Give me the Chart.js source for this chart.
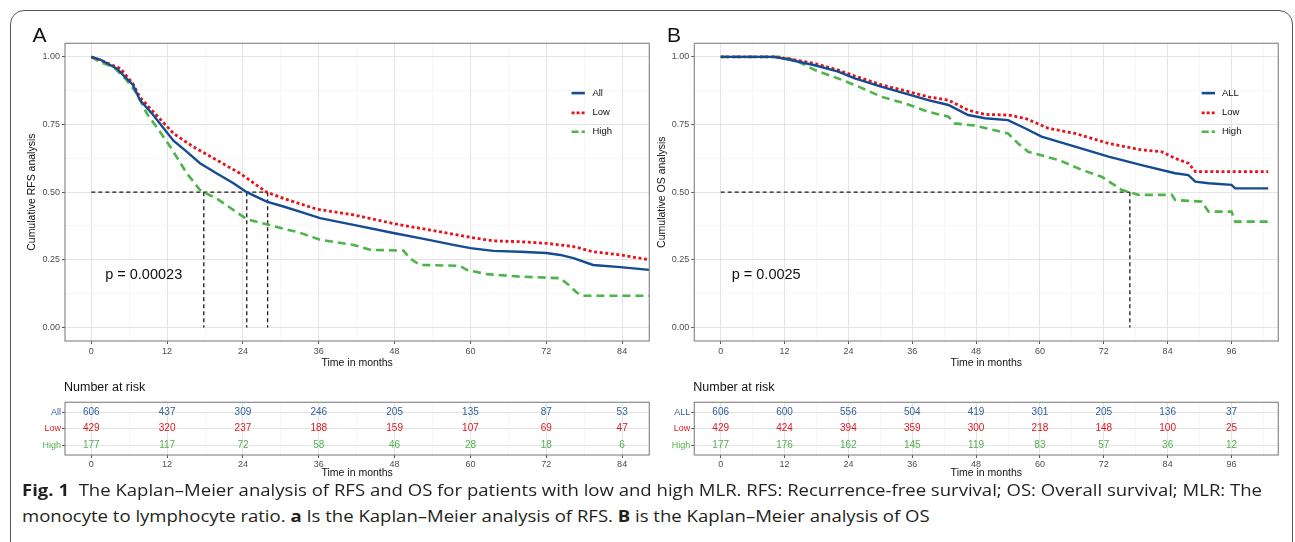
<!DOCTYPE html>
<html><head><meta charset="utf-8">
<script src="https://cdn.jsdelivr.net/npm/chart.js@4.4.1/dist/chart.umd.min.js"></script>
<style>
html,body{margin:0;padding:0;background:#fff;overflow:hidden;}
#wrap{position:relative;width:1295px;height:542px;overflow:hidden;background:#fff;}
#frame{position:absolute;left:10px;top:10px;width:1283px;height:600px;border:1.5px solid #555;border-radius:14px;box-sizing:border-box;}
canvas{position:absolute;}
.cap{position:absolute;left:22px;font-family:'Open Sans','Noto Sans',sans-serif;font-size:16px;color:#231f20;white-space:nowrap;transform-origin:0 50%;line-height:20px;}
.cap b{font-weight:700;}
</style></head>
<body><div id="wrap">
<div id="frame"></div>
<canvas id="kmA" width="660" height="380" style="left:0;top:0"></canvas>
<canvas id="kmB" width="640" height="380" style="left:655px;top:0"></canvas>
<canvas id="rkA" width="660" height="115" style="left:0;top:370px"></canvas>
<canvas id="rkB" width="640" height="115" style="left:655px;top:370px"></canvas>
<div class="cap" id="cap1" style="top:480px"><b>Fig. 1</b>&nbsp; The Kaplan–Meier analysis of RFS and OS for patients with low and high MLR. RFS: Recurrence-free survival; OS: Overall survival; MLR: The</div>
<div class="cap" id="cap2" style="top:506px">monocyte to lymphocyte ratio. <b>a</b> Is the Kaplan–Meier analysis of RFS. <b>B</b> is the Kaplan–Meier analysis of OS</div>
</div>
<script>
// ---------------- DATA ----------------
// Panel A (RFS)
const rfsAllTime  = [0,1.4,4,6.6,7.7,9.8,13,15.1,17.2,19.8,22.5,24.6,27.75,30.4,33,36.2,41.5,48,52,57.3,60,63.6,67.8,72,74.2,76.3,79.4,83.7,88.3];
const rfsAllSurv  = [1,0.99,0.957,0.896,0.84,0.785,0.69,0.65,0.607,0.57,0.533,0.5,0.465,0.447,0.428,0.404,0.379,0.348,0.33,0.305,0.293,0.283,0.28,0.275,0.268,0.256,0.231,0.223,0.213];
const rfsLowTime  = [0,1.4,4.6,6.6,7.7,10.3,13,16.1,19.8,23.5,27.75,30.4,35.7,41.5,48,53.6,60,63.6,67.8,72,76.3,79.4,83.7,88.3];
const rfsLowSurv  = [1,0.988,0.957,0.9,0.85,0.785,0.717,0.668,0.619,0.57,0.5,0.477,0.437,0.416,0.383,0.36,0.333,0.32,0.317,0.311,0.299,0.28,0.268,0.25];
const rfsHighTime = [0,1.4,3.5,5.6,7.2,8.8,10.3,12.5,15.1,17.2,17.8,19.8,22.5,24.6,27.75,33,36.2,41.5,44.1,49.4,50.4,52,58.3,59.4,62.6,67.8,74.2,75.7,76.8,77.8,88.3];
const rfsHighSurv = [1,0.98,0.963,0.914,0.865,0.79,0.742,0.668,0.57,0.508,0.5,0.477,0.434,0.4,0.381,0.35,0.324,0.305,0.287,0.284,0.256,0.231,0.228,0.213,0.197,0.188,0.182,0.154,0.129,0.117,0.117];
const rfsMedians  = [17.8, 24.6, 27.9];
const rfsPValue   = "p = 0.00023";
const rfsLegend   = ["All","Low","High"];

// Panel B (OS)
const osAllTime  = [0,10,12.7,17.7,22.1,25.2,30.3,34.6,39,42.8,46.5,49.7,54,57.2,60.3,66.6,72.9,79.1,85.4,87.9,89.2,91.7,96,96.7,102.9];
const osAllSurv  = [1,1,0.99,0.969,0.945,0.92,0.889,0.865,0.84,0.822,0.785,0.773,0.766,0.736,0.705,0.668,0.631,0.6,0.57,0.563,0.539,0.533,0.527,0.514,0.514];
const osLowTime  = [0,10,12.7,17.7,22.1,25.2,30.3,34.6,39,42.8,46.5,49.7,54,57.2,61.6,66.6,72.9,79.1,82.9,85.4,87.9,89.2,102.9];
const osLowSurv  = [1,1,0.993,0.975,0.951,0.929,0.896,0.875,0.852,0.84,0.803,0.787,0.785,0.773,0.736,0.717,0.68,0.656,0.649,0.625,0.607,0.576,0.576];
const osHighTime = [0,11,14,17.7,22.1,25.2,30.3,34.6,39,42.8,44,47.8,54,55.9,57.8,63.5,67.9,71.6,75.4,76.9,78.5,84.8,85.4,90.4,91.7,96,96.7,102.9];
const osHighSurv = [1,1,0.988,0.951,0.92,0.896,0.852,0.828,0.797,0.779,0.754,0.746,0.717,0.68,0.649,0.619,0.582,0.557,0.508,0.5,0.49,0.49,0.471,0.465,0.428,0.428,0.391,0.391];
const osMedians  = [76.9];
const osPValue   = "p = 0.0025";
const osLegend   = ["ALL","Low","High"];

// Risk tables
const riskTimesA = [0,12,24,36,48,60,72,84];
const riskA_All  = [606,437,309,246,205,135,87,53];
const riskA_Low  = [429,320,237,188,159,107,69,47];
const riskA_High = [177,117,72,58,46,28,18,6];
const riskRowsA  = ["All","Low","High"];

const riskTimesB = [0,12,24,36,48,60,72,84,96];
const riskB_All  = [606,600,556,504,419,301,205,136,37];
const riskB_Low  = [429,424,394,359,300,218,148,100,25];
const riskB_High = [177,176,162,145,119,83,57,36,12];
const riskRowsB  = ["ALL","Low","High"];

const yTickVals = [0,0.125,0.25,0.375,0.5,0.625,0.75,0.875,1];
const xTicksA = [0,6,12,18,24,30,36,42,48,54,60,66,72,78,84];
const xTicksB = [0,6,12,18,24,30,36,42,48,54,60,66,72,78,84,90,96,102];

// ---------------- STYLE ----------------
Chart.defaults.font.family = "'Liberation Sans', Arial, sans-serif";
Chart.defaults.animation = false;
const C_ALL = '#154b93', C_LOW = '#e3141c', C_HIGH = '#4db548';
const T_ALL = '#2d5f9f', T_LOW = '#e0161e', T_HIGH = '#4fb24a';
const GRID_MAJ = '#e4e4e4', GRID_MIN = '#f2f2f2';
const styles = [
  {color:C_ALL, dash:[], width:2.4},
  {color:C_LOW, dash:[3,2.6], width:2.8},
  {color:C_HIGH, dash:[8,5], width:2.6}
];
const isMaj12 = v => Math.abs(v/12 - Math.round(v/12)) < 1e-9;
const isMajQ  = v => Math.abs(v*4 - Math.round(v*4)) < 1e-9;
const pts = (t, s) => t.map((x,i)=>({x:x, y:s[i]}));

function frameRect(ctx, a){
  ctx.save(); ctx.strokeStyle='#8a8a8a'; ctx.lineWidth=1.2;
  ctx.strokeRect(a.left, a.top, a.right-a.left, a.bottom-a.top); ctx.restore();
}

function kmChart(id, c){
  const series = [[c.allT,c.allS],[c.lowT,c.lowS],[c.highT,c.highS]];
  const datasets = series.map((s,i)=>({
    label:c.legend[i], data:pts(s[0],s[1]), borderColor:styles[i].color,
    borderWidth:styles[i].width, borderDash:styles[i].dash, pointRadius:0,
    fill:false, tension:0, order:i+1, borderCapStyle:'butt'
  }));
  const medLine = {borderColor:'#1a1a1a', borderWidth:1.3, borderDash:[4,3], pointRadius:0, fill:false, order:10};
  const mMax = Math.max(...c.medians);
  datasets.push(Object.assign({label:'_m', data:[{x:0,y:0.5},{x:mMax,y:0.5}]}, medLine));
  c.medians.forEach(m=>datasets.push(Object.assign({label:'_m', data:[{x:m,y:0.5},{x:m,y:0}]}, medLine)));

  const overlay = {
    id:'overlay'+id,
    afterDatasetsDraw(chart){
      const ctx = chart.ctx, xs = chart.scales.x, ys = chart.scales.y;
      frameRect(ctx, chart.chartArea);
      ctx.save();
      ctx.fillStyle='#111'; ctx.font="14.5px 'Liberation Sans', Arial, sans-serif";
      ctx.textAlign='left'; ctx.textBaseline='middle';
      ctx.fillText(c.pText, xs.getPixelForValue(c.pAt[0]), ys.getPixelForValue(c.pAt[1]));
      ctx.font="9.5px 'Liberation Sans', Arial, sans-serif";
      c.legend.forEach((lab,i)=>{
        const y = ys.getPixelForValue(c.legY[i]);
        ctx.save(); ctx.strokeStyle=styles[i].color; ctx.lineWidth=2.6;
        ctx.setLineDash(i===0?[]:(i===1?[3,2]:[7,3]));
        ctx.beginPath(); ctx.moveTo(xs.getPixelForValue(c.legX[0]), y); ctx.lineTo(xs.getPixelForValue(c.legX[1]), y); ctx.stroke();
        ctx.restore();
        ctx.fillStyle='#111';
        ctx.fillText(lab, xs.getPixelForValue(c.legX[2]), y);
      });
      ctx.font="21px 'Liberation Sans', Arial, sans-serif"; ctx.textAlign='center';
      ctx.fillText(c.letter, c.letterPos[0], c.letterPos[1]);
      ctx.restore();
    }
  };

  return new Chart(document.getElementById(id), {
    type:'line',
    data:{datasets},
    options:{
      responsive:false, animation:false,
      layout:{padding:{left:0, top:c.top, right:c.right, bottom:0}},
      plugins:{legend:{display:false}, tooltip:{enabled:false}},
      scales:{
        x:{type:'linear', min:c.xMin, max:c.xMax,
          afterBuildTicks:s=>{s.ticks=c.xTicks.map(v=>({value:v}));},
          afterFit:s=>{s.height=c.xH;},
          border:{display:false},
          grid:{color:k=>isMaj12(k.tick.value)?GRID_MAJ:GRID_MIN, lineWidth:k=>isMaj12(k.tick.value)?1:0.7,
                tickColor:k=>isMaj12(k.tick.value)?'#555':'rgba(0,0,0,0)', tickLength:3, tickWidth:1},
          ticks:{autoSkip:false, maxRotation:0, padding:2, color:'#4d4d4d', font:{size:9},
                 callback:v=>isMaj12(v)?String(v):''},
          title:{display:true, text:'Time in months', color:'#111', font:{size:10.5}, padding:{top:0,bottom:11}}
        },
        y:{type:'linear', min:-0.05, max:1.05,
          afterBuildTicks:s=>{s.ticks=yTickVals.map(v=>({value:v}));},
          afterFit:s=>{s.width=c.yW;},
          border:{display:false},
          grid:{color:k=>isMajQ(k.tick.value)?GRID_MAJ:GRID_MIN, lineWidth:k=>isMajQ(k.tick.value)?1:0.7,
                tickColor:k=>isMajQ(k.tick.value)?'#555':'rgba(0,0,0,0)', tickLength:3, tickWidth:1},
          ticks:{autoSkip:false, padding:2, color:'#4d4d4d', font:{size:9},
                 callback:v=>isMajQ(v)?v.toFixed(2):''},
          title:{display:true, text:c.yTitle, color:'#111', font:{size:10.5}, padding:{top:c.yTitlePad,bottom:0}}
        }
      }
    },
    plugins:[overlay]
  });
}

function riskChart(id, c){
  const rows = [c.all, c.low, c.high];
  const colors = [T_ALL, T_LOW, T_HIGH];
  const datasets = rows.map((r,i)=>({data:c.times.map(t=>({x:t,y:i+1})), pointRadius:0, showLine:false}));
  const overlay = {
    id:'rk'+id,
    afterDatasetsDraw(chart){
      const ctx = chart.ctx, xs = chart.scales.x, ys = chart.scales.y;
      frameRect(ctx, chart.chartArea);
      ctx.save();
      ctx.font="10px 'Liberation Sans', Arial, sans-serif"; ctx.textAlign='center'; ctx.textBaseline='middle';
      rows.forEach((r,i)=>{
        ctx.fillStyle=colors[i];
        r.forEach((n,j)=>ctx.fillText(String(n), xs.getPixelForValue(c.times[j]), ys.getPixelForValue(i+1)));
      });
      ctx.fillStyle='#111'; ctx.textAlign='left';
      ctx.font="12.5px 'Liberation Sans', Arial, sans-serif";
      ctx.fillText('Number at risk', chart.chartArea.left - 1, 17.5);
      ctx.restore();
    }
  };
  return new Chart(document.getElementById(id), {
    type:'scatter',
    data:{datasets},
    options:{
      responsive:false, animation:false,
      layout:{padding:{left:0, top:32.3, right:c.right, bottom:0}},
      plugins:{legend:{display:false}, tooltip:{enabled:false}},
      scales:{
        x:{type:'linear', min:c.xMin, max:c.xMax,
          afterBuildTicks:s=>{s.ticks=c.xTicks.map(v=>({value:v}));},
          afterFit:s=>{s.height=30;},
          border:{display:false},
          grid:{color:k=>isMaj12(k.tick.value)?GRID_MAJ:GRID_MIN, lineWidth:k=>isMaj12(k.tick.value)?1:0.7,
                tickColor:k=>isMaj12(k.tick.value)?'#555':'rgba(0,0,0,0)', tickLength:3, tickWidth:1},
          ticks:{autoSkip:false, maxRotation:0, padding:1, color:'#4d4d4d', font:{size:9},
                 callback:v=>isMaj12(v)?String(v):''},
          title:{display:true, text:'Time in months', color:'#111', font:{size:10.5}, padding:{top:0,bottom:6}}
        },
        y:{type:'linear', min:0.4, max:3.6, reverse:true,
          afterBuildTicks:s=>{s.ticks=[1,2,3].map(v=>({value:v}));},
          afterFit:s=>{s.width=c.yW;},
          border:{display:false},
          grid:{color:GRID_MAJ, lineWidth:1, tickColor:'#555', tickLength:3, tickWidth:1},
          ticks:{autoSkip:false, padding:1, font:{size:9}, color:k=>colors[k.index],
                 callback:v=>c.rowLabels[v-1]}
        }
      }
    },
    plugins:[overlay]
  });
}

kmChart('kmA', {allT:rfsAllTime, allS:rfsAllSurv, lowT:rfsLowTime, lowS:rfsLowSurv, highT:rfsHighTime, highS:rfsHighSurv,
  medians:rfsMedians, legend:rfsLegend, pText:rfsPValue, pAt:[2.2,0.194],
  legX:[76,78.1,79.3], legY:[0.866,0.793,0.723], letter:'A', letterPos:[39.5,36],
  xMin:-4.16, xMax:88.3, xTicks:xTicksA, top:43.3, right:10.7, xH:39, yW:65, yTitle:'Cumulative RFS analysis', yTitlePad:25.5});

kmChart('kmB', {allT:osAllTime, allS:osAllSurv, lowT:osLowTime, lowS:osLowSurv, highT:osHighTime, highS:osHighSurv,
  medians:osMedians, legend:osLegend, pText:osPValue, pAt:[2.07,0.194],
  legX:[90.4,92.9,94.2], legY:[0.866,0.793,0.723], letter:'B', letterPos:[19,36],
  xMin:-4.96, xMax:104.8, xTicks:xTicksB, top:43.3, right:16.7, xH:39, yW:39.3, yTitle:'Cumulative OS analysis', yTitlePad:1});

riskChart('rkA', {times:riskTimesA, all:riskA_All, low:riskA_Low, high:riskA_High, rowLabels:riskRowsA,
  xMin:-4.16, xMax:88.3, xTicks:xTicksA, right:10.7, yW:65});
riskChart('rkB', {times:riskTimesB, all:riskB_All, low:riskB_Low, high:riskB_High, rowLabels:riskRowsB,
  xMin:-4.96, xMax:104.8, xTicks:xTicksB, right:16.7, yW:39.3});

const c1 = document.getElementById('cap1'), c2 = document.getElementById('cap2');
const sc = 1240 / c1.getBoundingClientRect().width;
c1.style.transform = 'scaleX(' + sc + ')';
c2.style.transform = 'scaleX(' + sc + ')';
</script>
</body></html>
